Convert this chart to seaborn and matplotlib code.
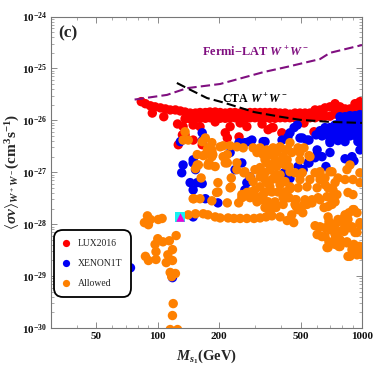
import numpy as np
import pandas as pd
import matplotlib
matplotlib.use('Agg')
import matplotlib.pyplot as plt
from matplotlib.ticker import FixedLocator, NullFormatter, FixedFormatter, LogLocator
from matplotlib.lines import Line2D
import seaborn as sns

# masses in GeV, cross sections as log10(<sigma v>)
fermi_mass = [77, 111, 139, 202, 330, 430, 623, 697, 1000]
fermi_exp = [-25.60, -25.51, -25.38, -25.30, -25.07, -24.97, -24.82, -24.70, -24.55]
cta_mass = [124, 139, 174, 211, 296, 397, 497, 697, 1000]
cta_exp = [-25.28, -25.38, -25.57, -25.66, -25.84, -25.93, -25.99, -26.03, -26.05]

red_mass = [83, 87, 92, 97, 103, 109, 115, 122, 129, 136, 144, 153, 161, 171, 180, 191, 202, 214, 226, 239, 253, 267,
            283, 299, 317, 335, 354, 375, 397, 420, 444, 470, 497, 526, 556, 589, 623, 659, 697, 738, 780, 826, 873,
            924, 977, 1000,
            136, 144, 153, 161, 171, 180, 191, 202, 214, 226, 239, 253, 267, 283, 299, 317, 335, 354, 375, 397, 420,
            444, 470, 497, 526, 556, 589, 623, 659, 697, 738, 780, 873, 977,
            94, 107, 125, 133, 136, 132, 126, 165, 149, 149, 161, 214, 219, 347, 367, 405, 226, 250, 273, 362, 582,
            520, 324, 191, 253,
            826, 924, 738, 1000]
red_exp = [-25.64, -25.68, -25.72, -25.74, -25.76, -25.78, -25.80, -25.80, -25.82, -25.84, -25.86, -25.86, -25.85,
           -25.85, -25.84, -25.84, -25.85, -25.86, -25.85, -25.85, -25.86, -25.86, -25.85, -25.85, -25.85, -25.85,
           -25.85, -25.85, -25.86, -25.86, -25.88, -25.86, -25.86, -25.86, -25.86, -25.80, -25.80, -25.76, -25.74,
           -25.68, -25.74, -25.78, -25.78, -25.68, -25.64, -25.70,
           -25.97, -25.97, -25.97, -25.96, -25.96, -25.95, -25.95, -25.96, -25.96, -25.95, -25.95, -25.96, -25.96,
           -25.95, -25.95, -25.95, -25.95, -25.96, -25.96, -25.95, -25.95, -25.95, -25.95, -25.96, -25.95, -25.95,
           -25.95, -25.93, -25.92, -25.92, -25.88, -25.87, -25.86, -25.82,
           -25.86, -25.93, -26.07, -26.12, -26.28, -26.28, -26.47, -26.47, -26.38, -26.09, -26.12, -26.24, -26.34,
           -26.18, -26.14, -26.24, -26.12, -26.32, -26.12, -26.14, -26.22, -26.05, -26.07, -26.03, -26.05,
           -25.85, -25.80, -25.80, -25.80]

blue_mass = [780, 826, 873, 924, 977, 1000, 780, 826, 873, 924, 977, 738, 780, 826, 873, 924, 977, 659, 697, 738, 780,
             826, 873, 930, 985, 623, 637, 682, 738, 808, 873, 945, 1000, 697, 763, 826, 955, 1000, 637, 596,
             465, 444, 482, 510, 406, 550, 603, 697, 637, 589, 826, 893, 977, 697, 550, 415, 510, 335, 280, 250, 226,
             258, 239, 165, 165, 149, 156, 133, 131, 149, 153, 144, 165, 149, 171, 197, 129, 283, 273, 267, 289, 267,
             328, 434, 497, 538, 603, 544, 486, 515, 444, 666, 913, 149, 118, 73.5]
blue_exp = [-25.93, -25.93, -25.91, -25.91, -25.89, -25.95, -26.03, -26.03, -25.99, -25.99, -25.99, -26.09, -26.12,
            -26.11, -26.09, -26.09, -26.09, -26.14, -26.14, -26.18, -26.20, -26.22, -26.18, -26.18, -26.18, -26.20,
            -26.30, -26.28, -26.30, -26.32, -26.30, -26.32, -26.28, -26.39, -26.39, -26.41, -26.41, -26.47,
            -26.28, -26.28,
            -26.14, -26.24, -26.09, -26.34, -26.38, -26.38, -26.57, -26.62, -26.70, -26.72, -26.74, -26.70, -26.57,
            -26.43, -26.82, -27.01, -26.95, -26.41, -26.41, -26.43, -26.62, -26.82, -26.95, -26.24, -26.39, -26.76,
            -27.20, -26.86, -27.01, -26.82, -26.95, -27.20, -27.22, -27.34, -27.51, -27.59, -26.41, -27.09, -27.20,
            -27.34, -26.38, -26.43, -26.41, -26.32, -26.34, -26.38, -26.66, -26.82, -26.89, -26.95, -27.12, -26.89,
            -26.78, -27.86, -29.03, -28.84]

orange_mass = [89, 92, 86, 90, 100.5, 105, 123, 114, 106, 100, 97, 98, 118, 112, 118, 110, 98, 87, 90, 115, 122, 117,
               119, 118, 115, 125,
               141, 153, 167, 176, 191, 202, 221, 236, 253, 273, 296, 317, 339, 362, 397, 430, 463, 453, 513,
               219, 249, 258, 283, 306, 342, 335, 354, 350, 430, 470, 470, 520, 569, 623, 697, 652, 713, 589, 623,
               603, 637, 689, 674, 771, 689, 713, 738, 771, 817, 864, 913, 977, 945, 873, 844, 817, 780, 844, 913,
               966, 873, 945, 1000, 924, 903,
               150, 161, 184, 197, 226, 258, 273,
               209, 226, 244, 262, 293, 317, 342, 367, 397, 430, 306, 328, 354, 382, 411, 209, 219, 244, 267, 229,
               197, 317, 317, 335, 354, 382, 406, 342, 362, 388, 420, 444, 293, 317, 335, 362, 388, 420, 283, 262,
               293, 310, 328, 347, 375, 411, 434, 184, 184, 191, 180,
               176, 184, 171, 184, 156, 167, 158, 153, 176, 163, 149, 194, 133, 141, 165, 171, 136,
               444, 434, 453, 430, 439, 486, 497, 550, 470, 510, 497, 444, 486, 538, 589, 623, 623, 659, 713, 682,
               603, 721, 754, 674, 610, 569, 526, 538, 476, 476, 439, 486, 738, 682, 854, 903, 977, 903, 826, 763,
               873, 844, 977,
               610, 682, 682, 697, 697, 763, 826, 903, 945, 854, 808, 893, 977, 924, 738, 780, 844, 893, 977, 854,
               659,
               202, 178, 156, 214, 219, 244, 264, 283, 317, 342, 375, 420, 520, 497, 556, 697, 175, 186, 229,
               335, 375, 299, 375, 335, 299, 354, 397, 420, 444, 397, 354, 324, 411, 379,
               738, 659, 780, 826, 738, 659, 738, 556]
orange_exp = [-27.84, -27.91, -27.97, -28.01, -27.91, -27.89, -28.22, -28.32, -28.34, -28.28, -28.39, -28.53, -28.49,
              -28.59, -28.70, -28.74, -28.68, -28.62, -28.70, -28.93, -28.95, -29.01, -29.53, -29.76, -30.03, -30.03,
              -27.82, -27.80, -27.80, -27.82, -27.86, -27.88, -27.88, -27.89, -27.89, -27.89, -27.89, -27.88, -27.86,
              -27.84, -27.86, -27.93, -27.97, -27.82, -27.78,
              -27.59, -27.59, -27.49, -27.49, -27.57, -27.57, -27.68, -27.76, -27.62, -27.49, -27.62, -27.53, -27.62,
              -27.59, -27.53, -27.49, -27.68, -27.62, -28.03, -28.05, -28.20, -28.24, -28.34, -28.45, -28.43, -27.95,
              -28.07, -28.20, -27.95, -27.88, -27.78, -27.72, -27.97, -28.16, -28.07, -27.95, -28.14, -28.30, -28.36,
              -28.39, -28.43, -28.62, -28.59, -28.59, -28.49, -28.55,
              -27.51, -27.51, -27.55, -27.38, -27.30, -27.43, -27.39,
              -26.49, -26.49, -26.51, -26.53, -26.53, -26.53, -26.57, -26.53, -26.51, -26.57, -26.62, -26.66, -26.66,
              -26.62, -26.70, -26.70, -26.82, -26.82, -26.99, -27.11, -27.20, -26.91, -27.09, -27.01, -26.95, -26.89,
              -26.82, -27.20, -27.14, -27.14, -27.18, -27.28, -27.18, -27.28, -27.39, -27.38, -27.38, -27.38, -27.38,
              -27.47, -27.47, -27.49, -27.43, -27.57, -27.57, -27.49, -27.47, -26.43, -26.62, -26.89, -26.86,
              -26.53, -26.57, -26.66, -26.70, -26.66, -26.68, -26.86, -26.93, -26.86, -27.11, -27.51, -27.39, -26.38,
              -26.38, -26.41, -26.34, -26.22,
              -26.43, -26.57, -26.62, -26.76, -26.89, -26.53, -26.62, -26.68, -27.01, -27.01, -27.14, -27.32, -27.30,
              -27.28, -27.01, -26.99, -27.14, -27.24, -26.99, -27.30, -27.30, -27.34, -27.43, -27.47, -27.49, -27.53,
              -27.53, -27.62, -27.53, -27.66, -27.49, -27.72, -27.57, -27.66, -27.39, -27.43, -27.20, -27.14, -27.14,
              -27.11, -26.86, -26.95, -27.01,
              -28.20, -28.45, -27.86, -27.97, -28.11, -27.91, -27.82, -27.72, -27.78, -27.91, -28.11, -28.05, -28.01,
              -28.16, -28.39, -28.43, -28.34, -28.49, -28.43, -28.62, -28.24,
              -26.51, -26.82, -26.86, -26.82, -26.66, -26.95, -27.01, -27.09, -26.95, -26.82, -26.62, -26.57, -26.53,
              -26.76, -26.70, -26.99, -26.57, -26.66, -27.28,
              -26.76, -26.76, -26.95, -27.05, -27.14, -27.34, -26.86, -27.05, -26.86, -26.99, -27.24, -27.28, -27.53,
              -27.62, -27.68,
              -28.01, -28.07, -28.14, -28.01, -28.30, -27.11, -27.20, -27.14]

bench_mass = [129]
bench_exp = [-27.87]

x_major = [50, 100, 200, 500, 1000]
x_minor = [30, 40, 60, 70, 80, 90, 300, 400, 600, 700, 800, 900]
y_major = [1e-24, 1e-25, 1e-26, 1e-27, 1e-28, 1e-29, 1e-30]
y_labels = [r'$\mathbf{10^{-%d}}$' % n for n in range(24, 31)]

df = pd.concat([
    pd.DataFrame({'mass': red_mass, 'sv': 10.0 ** np.array(red_exp), 'group': 'LUX2016'}),
    pd.DataFrame({'mass': blue_mass, 'sv': 10.0 ** np.array(blue_exp), 'group': 'XENON1T'}),
    pd.DataFrame({'mass': orange_mass, 'sv': 10.0 ** np.array(orange_exp), 'group': 'Allowed'}),
])
colors = {'LUX2016': '#fe0000', 'XENON1T': '#0000f5', 'Allowed': '#fe8000'}

sns.set_style('white')
plt.rcParams['font.family'] = ['Liberation Serif', 'DejaVu Serif']
plt.rcParams['mathtext.fontset'] = 'custom'
plt.rcParams['mathtext.rm'] = 'Liberation Serif:bold'
plt.rcParams['mathtext.bf'] = 'Liberation Serif:bold'
plt.rcParams['mathtext.it'] = 'Liberation Serif:italic:bold'
plt.rcParams['mathtext.fallback'] = 'stix'

fig = plt.figure(figsize=(3.74, 3.70), dpi=100)
ax = fig.add_axes([51 / 374, 1 - 328 / 370, 311 / 374, 311.5 / 370])

sns.scatterplot(data=df, x='mass', y='sv', hue='group', palette=colors, s=46, linewidth=0, ax=ax, legend=False, zorder=3)
sns.lineplot(x=fermi_mass, y=10.0 ** np.array(fermi_exp), color='#800f80', lw=1.5, ax=ax, dashes=(4.5, 2), zorder=4)
sns.lineplot(x=cta_mass, y=10.0 ** np.array(cta_exp), color='black', lw=1.5, ax=ax, dashes=(4.5, 2), zorder=4)
ax.scatter(bench_mass, 10.0 ** np.array(bench_exp), marker='s', s=44, color='#19f0f0', linewidth=0, zorder=5)
ax.scatter(bench_mass, 10.0 ** np.array(bench_exp), marker='^', s=38, color='#f000d8', linewidth=0, zorder=6)

ax.set_xscale('log')
ax.set_yscale('log')
ax.set_xlim(30, 1000)
ax.set_ylim(1e-30, 1e-24)

ax.xaxis.set_major_locator(FixedLocator(x_major))
ax.xaxis.set_major_formatter(FixedFormatter([str(v) for v in x_major]))
ax.xaxis.set_minor_locator(FixedLocator(x_minor))
ax.xaxis.set_minor_formatter(NullFormatter())
ax.yaxis.set_major_locator(FixedLocator(y_major))
ax.yaxis.set_major_formatter(FixedFormatter(y_labels))
ax.yaxis.set_minor_locator(LogLocator(base=10, subs=(2, 3, 4, 5, 6, 7, 8, 9), numticks=12))
ax.yaxis.set_minor_formatter(NullFormatter())
ax.tick_params(which='major', direction='in', length=4, width=0.6, color='#777777', top=True, right=True, bottom=True,
               left=True, labelsize=8, pad=3, labelcolor='#111111')
ax.tick_params(which='minor', direction='in', length=2, width=0.5, color='#888888', top=True, right=True, bottom=True,
               left=True)
for lab in ax.get_xticklabels():
    lab.set_fontweight('bold')
for sp in ax.spines.values():
    sp.set_color('#777777')
    sp.set_linewidth(0.8)

ax.set_xlabel(r'$M_{s_1}$(GeV)', fontsize=10.5, fontweight='bold', labelpad=5, x=0.5)
ax.set_ylabel(r'$\langle\sigma v\rangle_{W^+W^-}$(cm$^3$s$^{-1}$)', fontsize=11, fontweight='bold', labelpad=0, y=0.5)

ax.text(0.022, 0.945, '(c)', transform=ax.transAxes, fontsize=12.5, fontweight='bold', va='center')
ax.text(0.485, 0.885, r'Fermi$-$LAT $W^+W^-$', transform=ax.transAxes, fontsize=8.9, fontweight='bold', color='#800f80',
        va='center')
ax.text(0.55, 0.735, r'CTA $W^+W^-$', transform=ax.transAxes, fontsize=8.6, fontweight='bold', color='black', va='center')

handles = [Line2D([], [], marker='o', linestyle='', markersize=5.2, color=colors[g], markeredgewidth=0, label=g)
           for g in ['LUX2016', 'XENON1T', 'Allowed']]
leg = ax.legend(handles=handles, loc='lower left', bbox_to_anchor=(0.01, 0.0995), borderaxespad=0, fontsize=6.9,
                frameon=True, fancybox=True, edgecolor='black', framealpha=1, labelspacing=1.15, handletextpad=0.9,
                borderpad=0.95, handlelength=0.6, labelcolor='#222222')
leg.get_frame().set_linewidth(1.3)
leg.get_frame().set_boxstyle('round', pad=0, rounding_size=0.9)
leg.set_zorder(10)

plt.savefig('out.png', dpi=100)
